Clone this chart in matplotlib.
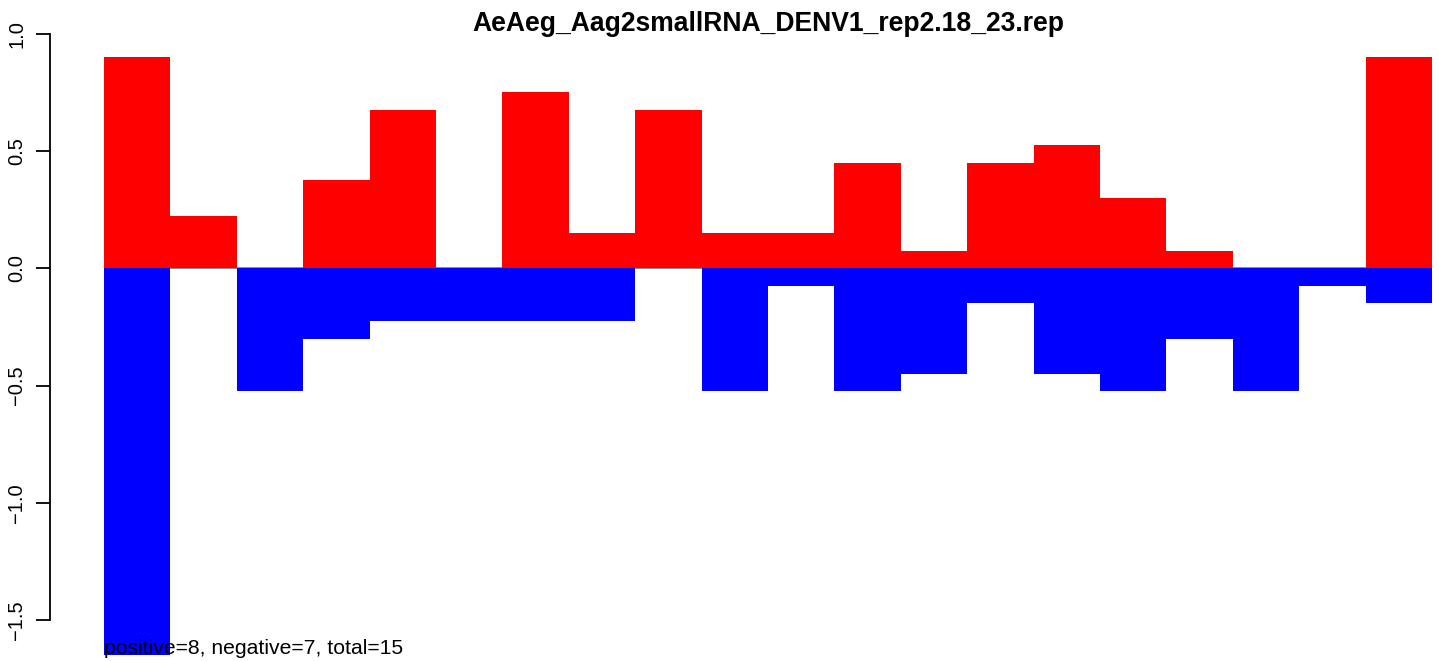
import matplotlib
matplotlib.use("Agg")
import matplotlib.pyplot as plt
import numpy as np

plt.rcParams['font.family'] = ['Liberation Sans', 'DejaVu Sans']

title = "AeAeg_Aag2smallRNA_DENV1_rep2.18_23.rep"
note = "positive=8, negative=7, total=15"

# per-position values
pos = [0.9, 0.225, 0.0, 0.375, 0.675, 0.0, 0.75, 0.15, 0.675, 0.15,
       0.15, 0.45, 0.075, 0.45, 0.525, 0.3, 0.075, 0.0, 0.0, 0.9]
neg = [-1.65, 0.0, -0.525, -0.3, -0.225, -0.225, -0.225, -0.225, 0.0, -0.525,
       -0.075, -0.525, -0.45, -0.15, -0.45, -0.525, -0.3, -0.525, -0.075, -0.15]
yticks = [-1.5, -1.0, -0.5, 0.0, 0.5, 1.0]

W, H = 1439, 661
fig = plt.figure(figsize=(W / 100, H / 100), dpi=100)
ax = fig.add_axes([50 / W, 0, 1 - 50 / W, 1])

x = np.arange(len(pos))
ax.hlines(0, -0.5, len(pos) - 0.5, color='#777777', lw=1.2, zorder=1)
ax.bar(x, pos, width=1.0, color='#ff0000', linewidth=0, zorder=2)
ax.bar(x, neg, width=1.0, color='#0000ff', linewidth=0, zorder=2)

unit = 66.4
ax.set_xlim(-0.5 - 54 / unit, -0.5 + (W - 104) / unit)
ax.set_ylim(-(H - 268.3) / 234.5, 268.3 / 234.5)

for s in ['top', 'right', 'bottom']:
    ax.spines[s].set_visible(False)
ax.spines['left'].set_bounds(yticks[0], yticks[-1])
ax.spines['left'].set_linewidth(1.3)
ax.set_xticks([])
ax.set_yticks(yticks)
ax.set_yticklabels([f"{v:.1f}".replace('-', '\u2212') for v in yticks],
                   rotation=90, va='center', fontsize=14.5)
ax.tick_params(axis='y', length=10, width=1.3, pad=7)

ax.text(-0.5, -1.62, note, fontsize=15.2, ha='left', va='center', zorder=3)
fig.text((104 + 1432) / 2 / W, 1 - 24 / H, title, ha='center', va='center',
         fontsize=19.1, fontweight='bold')

fig.savefig("out.png", dpi=100)
